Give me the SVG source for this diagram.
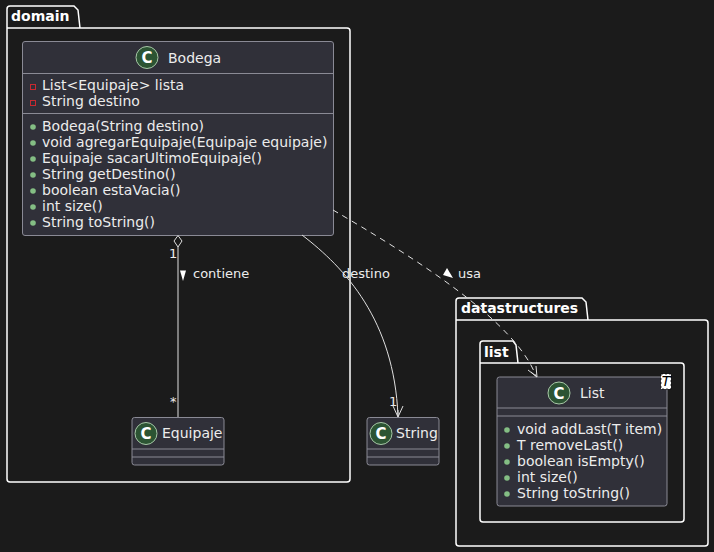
<svg xmlns="http://www.w3.org/2000/svg" width="714" height="552" viewBox="0 0 714 552">
<style>
text{font-family:"DejaVu Sans","Liberation Sans",sans-serif;fill:#ececec;font-size:14px}
.pkg{fill:none;stroke:#ffffff;stroke-width:1.5}
.pt{font-weight:bold;fill:#ffffff}
.cls{fill:#303039;stroke:#8a8a95;stroke-width:1}
.sep{stroke:#8a8a95;stroke-width:1}
.ci{fill:#2c5433;stroke:#a8c8a8;stroke-width:1}
.cl{font-weight:bold;font-size:15px;fill:#ffffff;text-anchor:middle}
.pub{fill:#84be84}
.priv{fill:none;stroke:#c82930;stroke-width:1}
.edge{fill:none;stroke:#e0e0e0;stroke-width:1}
.lbl{font-size:13px}
</style>
<rect width="714" height="552" fill="#1b1b1b"/>
<g id="pkg-domain">
<path class="pkg" d="M10,6 L74,6 L78,10 L80,28 L347,28 Q350,28 350,31 L350,479 Q350,482 347,482 L10,482 Q7,482 7,479 L7,9 Q7,6 10,6 Z M7,28 L80,28"/>
<text class="pt" x="11" y="21">domain</text>
</g>
<g id="pkg-datastructures">
<path class="pkg" d="M459,298 L582,298 L586,302 L588,320 L705,320 Q708,320 708,323 L708,543 Q708,546 705,546 L459,546 Q456,546 456,543 L456,301 Q456,298 459,298 Z M456,320 L588,320"/>
<text class="pt" x="461" y="313">datastructures</text>
</g>
<g id="pkg-list">
<path class="pkg" d="M483,341 L513,341 L516,345 L518,363 L681,363 Q684,363 684,366 L684,519 Q684,522 681,522 L483,522 Q480,522 480,519 L480,344 Q480,341 483,341 Z M480,363 L518,363"/>
<text class="pt" x="484" y="357">list</text>
</g>
<g id="Bodega">
<rect class="cls" x="22.5" y="41.5" width="311" height="194" rx="2.5"/>
<line class="sep" x1="22.5" y1="73.5" x2="333.5" y2="73.5"/>
<line class="sep" x1="22.5" y1="113.5" x2="333.5" y2="113.5"/>
<circle class="ci" cx="147" cy="57.5" r="11"/>
<text class="cl" x="147" y="63">C</text>
<text x="168" y="63">Bodega</text>
<rect class="priv" x="30.5" y="84.5" width="5" height="5"/>
<text x="42" y="90">List&lt;Equipaje&gt; lista</text>
<rect class="priv" x="30.5" y="100.5" width="5" height="5"/>
<text x="42" y="106">String destino</text>
<circle class="pub" cx="33" cy="127" r="2.8"/>
<text x="42" y="131">Bodega(String destino)</text>
<circle class="pub" cx="33" cy="143" r="2.8"/>
<text x="42" y="147">void agregarEquipaje(Equipaje equipaje)</text>
<circle class="pub" cx="33" cy="159" r="2.8"/>
<text x="42" y="163">Equipaje sacarUltimoEquipaje()</text>
<circle class="pub" cx="33" cy="175" r="2.8"/>
<text x="42" y="179">String getDestino()</text>
<circle class="pub" cx="33" cy="191" r="2.8"/>
<text x="42" y="195">boolean estaVacia()</text>
<circle class="pub" cx="33" cy="207" r="2.8"/>
<text x="42" y="211">int size()</text>
<circle class="pub" cx="33" cy="223" r="2.8"/>
<text x="42" y="227">String toString()</text>
</g>
<g id="Equipaje">
<rect class="cls" x="132" y="417.5" width="92" height="47.5" rx="2.5"/>
<line class="sep" x1="132" y1="449" x2="224" y2="449"/>
<line class="sep" x1="132" y1="457" x2="224" y2="457"/>
<circle class="ci" cx="146" cy="433.5" r="11"/>
<text class="cl" x="146" y="439">C</text>
<text x="162" y="438">Equipaje</text>
</g>
<g id="String">
<rect class="cls" x="367" y="417.5" width="72" height="47.5" rx="2.5"/>
<line class="sep" x1="367" y1="449" x2="439" y2="449"/>
<line class="sep" x1="367" y1="457" x2="439" y2="457"/>
<circle class="ci" cx="381" cy="433.5" r="11"/>
<text class="cl" x="381" y="439">C</text>
<text x="396" y="438">String</text>
</g>
<g id="List">
<rect class="cls" x="497" y="377" width="170" height="129" rx="2.5"/>
<line class="sep" x1="497" y1="408" x2="667" y2="408"/>
<line class="sep" x1="497" y1="416" x2="667" y2="416"/>
<circle class="ci" cx="559" cy="393" r="11"/>
<text class="cl" x="559" y="398.5">C</text>
<text x="580" y="398">List</text>
<rect x="661" y="374" width="10" height="15" fill="#ffffff" stroke="#000" stroke-width="0.7" stroke-dasharray="2,2"/>
<text x="666" y="386" font-size="11" font-style="italic" text-anchor="middle" style="fill:#000">T</text>
<circle class="pub" cx="507" cy="430" r="2.8"/>
<text x="517" y="434">void addLast(T item)</text>
<circle class="pub" cx="507" cy="446" r="2.8"/>
<text x="517" y="450">T removeLast()</text>
<circle class="pub" cx="507" cy="462" r="2.8"/>
<text x="517" y="466">boolean isEmpty()</text>
<circle class="pub" cx="507" cy="478" r="2.8"/>
<text x="517" y="482">int size()</text>
<circle class="pub" cx="507" cy="494" r="2.8"/>
<text x="517" y="498">String toString()</text>
</g>
<g id="connectors">
<line class="edge" x1="178" y1="247" x2="178" y2="417"/>
<path d="M178,235.5 L182,241 L178,247 L174,241 Z" fill="#1b1b1b" stroke="#e0e0e0" stroke-width="1"/>
<text class="lbl" x="169" y="258">1</text>
<text class="lbl" x="170" y="406">*</text>
<path d="M180,270.5 L186,270.5 L183,281 Z" fill="#ffffff"/>
<text class="lbl" x="193" y="278">contiene</text>
<path class="edge" d="M302,235 C345,268 394,320 398,416"/>
<path class="edge" d="M393,406 L398,417 L403,406 M398,417 L398,410"/>
<text class="lbl" x="342" y="278">destino</text>
<text class="lbl" x="389" y="406">1</text>
<path class="edge" stroke-dasharray="6,5" d="M333,210 C410,255 515,320 536,376"/>
<path class="edge" d="M528,370 L537,377 L536,366 M537,377 L531,372"/>
<path d="M447,268 L453,278 L443,275 Z" fill="#ffffff"/>
<text class="lbl" x="458" y="278">usa</text>
</g>
</svg>
